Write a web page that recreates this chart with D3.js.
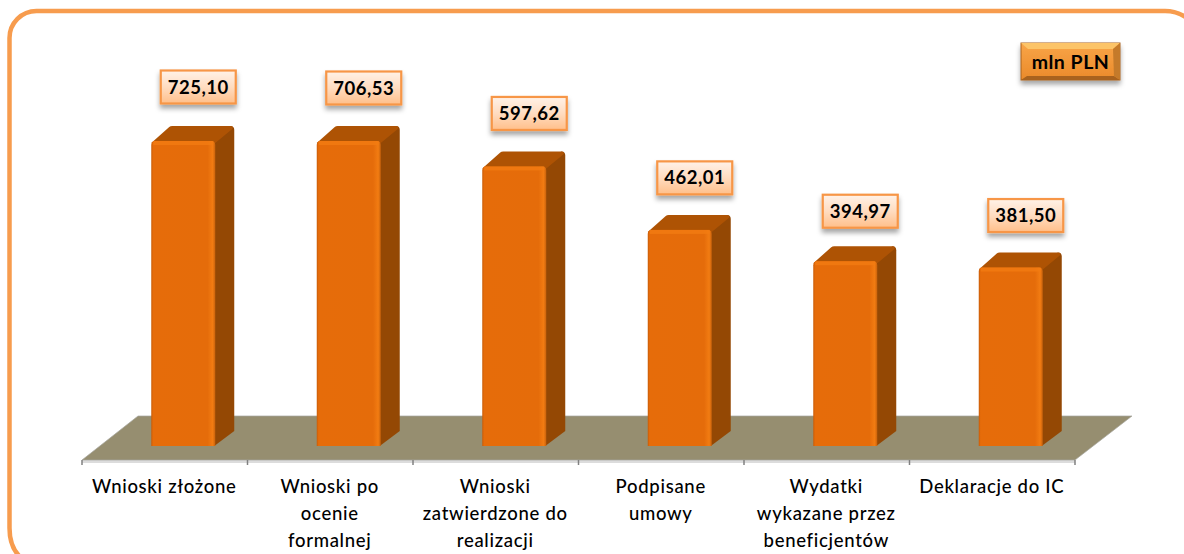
<!DOCTYPE html>
<html><head><meta charset="utf-8">
<script src="https://cdn.jsdelivr.net/npm/d3@7"></script>
<style>html,body{margin:0;padding:0;background:#fff;overflow:hidden}svg{display:block}text{font-family:Lato,"Open Sans",sans-serif}</style>
</head><body><svg id="c" width="1184" height="554"></svg>
<script>
const categories=[["Wnioski złożone"],["Wnioski po","ocenie","formalnej"],["Wnioski","zatwierdzone do","realizacji"],["Podpisane","umowy"],["Wydatki","wykazane przez","beneficjentów"],["Deklaracje do IC"]];
const values=[725.10,706.53,597.62,462.01,394.97,381.50];
const valueLabels=["725,10","706,53","597,62","462,01","394,97","381,50"];
const axisMax=652;
const unitLabel="mln PLN";

const W=1184,H=554;
const floorFront=460,plotBottom=446,plotTop=141,depthX=19,depthY=15;
const x=d3.scaleBand().domain(d3.range(categories.length)).range([82,1075]);
const y=d3.scaleLinear().domain([0,axisMax]).range([plotBottom,plotTop]).clamp(true);
const barW=64,shift=19;
const svg=d3.select("#c");
const defs=svg.append("defs");
function grad(id,stops,horizontal){const g=defs.append("linearGradient").attr("id",id).attr("x1",0).attr("y1",0).attr("x2",horizontal?1:0).attr("y2",horizontal?0:1);
 stops.forEach(s=>g.append("stop").attr("offset",s[0]).attr("stop-color",s[1]));}
grad("front",[[0,"#c85c08"],[.03,"#e66c0a"],[.88,"#e56c0a"],[.96,"#f27c12"],[1,"#c8620c"]],true);
grad("lab",[[0,"#fff2e8"],[.5,"#ffdcc0"],[1,"#ffbf8a"]]);
grad("btn",[[0,"#f9a548"],[1,"#ea8a2a"]]);
const sh=defs.append("filter").attr("id","sh").attr("x","-20%").attr("y","-20%").attr("width","140%").attr("height","160%");
sh.append("feDropShadow").attr("dx",0).attr("dy",4).attr("stdDeviation",2.5).attr("flood-color","#000").attr("flood-opacity",.35);

// frame
svg.append("path").attr("d","M24,560 Q9.5,550 9.5,528 L9.5,38 A27,27 0 0 1 36.5,11 L1165,11 Q1180,11 1192,22")
 .attr("fill","none").attr("stroke","#f79c4e").attr("stroke-width",4.5);

// floor
const x0=x.range()[0],x1=x.range()[1];
const floorPts=[[x0,floorFront],[x1,floorFront],[1132,416],[138,416]];
svg.append("rect").attr("x",x0).attr("y",floorFront).attr("width",x1-x0).attr("height",3).attr("fill","#dcdcdc");
svg.append("polygon").attr("points",floorPts.join(" ")).attr("fill","#968e70").attr("stroke","#a8a8a0").attr("stroke-width",.7);
// axis ticks
const edges=d3.range(categories.length+1).map(i=>i<categories.length?x(i):x1);
svg.selectAll("line.t").data(edges).join("line").attr("x1",d=>d).attr("x2",d=>d).attr("y1",floorFront).attr("y2",floorFront+5).attr("stroke","#808080").attr("stroke-width",1.5);

// bars
const g=svg.selectAll("g.bar").data(values).join("g");
g.each(function(v,i){
 const s=d3.select(this),l=x(i)+x.bandwidth()/2+shift-barW/2-0.5,r=l+barW,t=y(v),b=plotBottom;
 s.append("path").attr("d",`M${r-1},${b} L${r+depthX},${b-depthY} L${r+depthX},${t-depthY+4} Q${r+depthX},${t-depthY} ${r+depthX-4},${t-depthY} L${r-1},${t} Z`).attr("fill","#944804");
 s.append("path").attr("d",`M${l},${t+2} L${l+depthX-1},${t-depthY+1} Q${l+depthX},${t-depthY} ${l+depthX+2},${t-depthY} L${r+depthX-4},${t-depthY} Q${r+depthX},${t-depthY} ${r+depthX-2},${t-depthY+3} L${r},${t+2} Z`).attr("fill","#ae5304");
 s.append("path").attr("d",`M${l},${b} L${l},${t+4} Q${l},${t} ${l+4},${t} L${r-4},${t} Q${r},${t} ${r},${t+4} L${r},${b} Z`).attr("fill","url(#front)");
 s.append("rect").attr("x",l+2).attr("y",t).attr("width",barW-4).attr("height",4).attr("fill","#f27c12").attr("opacity",.8);
});

// value labels: manual placement gaps above each bar, as in the source chart
const labelGaps=[54,53,53,52,50,52];
const lw=75,lh=33;
const lb=svg.selectAll("g.lab").data(values).join("g").attr("transform",(v,i)=>`translate(${x(i)+x.bandwidth()/2+shift+14.5-lw/2},${y(v)-labelGaps[i]-lh/2})`);
lb.append("rect").attr("width",lw).attr("height",lh).attr("fill","url(#lab)").attr("stroke","#f79646").attr("stroke-width",2.2).attr("filter","url(#sh)");
lb.append("text").attr("x",lw/2).attr("y",lh/2+6.5).attr("text-anchor","middle").attr("font-size",18.5).attr("letter-spacing",.5).attr("font-weight",700).attr("fill","#000").text((v,i)=>valueLabels[i]);

// category labels
const ct=svg.selectAll("text.cat").data(categories).join("text").attr("class","cat").attr("text-anchor","middle").attr("font-size",18.5).attr("letter-spacing",.7).attr("font-weight",500).attr("fill","#000");
ct.each(function(lines,i){d3.select(this).selectAll("tspan").data(lines).join("tspan").attr("x",x(i)+x.bandwidth()/2-0.5).attr("y",(d,k)=>493+k*27).text(d=>d);});

// unit button
const ub=svg.append("g").attr("transform","translate(1021,43)");
ub.append("rect").attr("width",99).attr("height",37).attr("fill","url(#btn)").attr("stroke","#a8621e").attr("stroke-width",1).attr("filter","url(#sh)");
ub.append("path").attr("d","M0,0 L99,0 L92,6 L7,6 Z").attr("fill","#fcc468");
ub.append("path").attr("d","M0,37 L99,37 L93,33 L6,33 Z").attr("fill","#a8621e");
ub.append("path").attr("d","M99,0 L99,37 L93,33 L92,6 Z").attr("fill","#c47a2a");
ub.append("text").attr("x",49.5).attr("y",25.5).attr("text-anchor","middle").attr("font-size",19.5).attr("letter-spacing",.5).attr("font-weight",700).attr("fill","#000").text(unitLabel);
</script></body></html>
